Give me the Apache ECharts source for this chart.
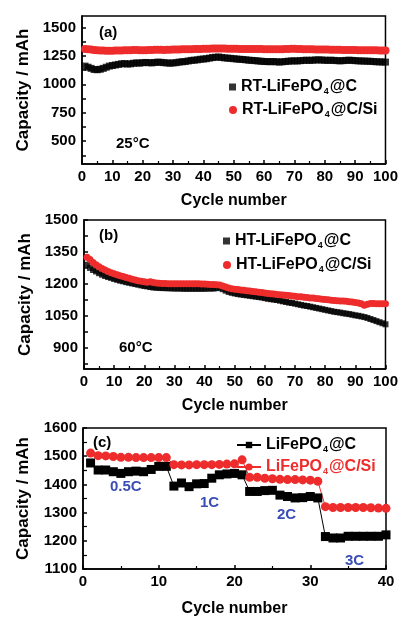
<!DOCTYPE html>
<html>
<head>
<meta charset="utf-8">
<script src="https://cdn.jsdelivr.net/npm/echarts@6/dist/echarts.min.js"></script>
<style>
  html, body { margin: 0; padding: 0; background: #fff; }
  #chart { width: 401px; height: 618px; }
</style>
</head>
<body>
<div id="chart"></div>
<script>
// (a) 25 C cycling, cycles 1..100
const rtCarbon = [
    1160, 1150, 1140, 1130, 1128, 1132, 1140, 1150, 1160, 1165,
    1170, 1175, 1180, 1182, 1178, 1180, 1185, 1188, 1186, 1190,
    1192, 1190, 1188, 1192, 1195, 1193, 1190, 1188, 1185, 1188,
    1190, 1195, 1198, 1200, 1205, 1210, 1212, 1215, 1220, 1222,
    1225, 1230, 1235, 1238, 1240, 1236, 1232, 1230, 1228, 1225,
    1222, 1220, 1218, 1215, 1212, 1210, 1208, 1205, 1203, 1200,
    1200, 1198, 1200, 1198, 1195, 1198, 1200, 1203, 1205, 1206,
    1205, 1208, 1210, 1212, 1210, 1212, 1214, 1215, 1213, 1212,
    1210, 1212, 1210, 1208, 1206, 1208, 1210, 1212, 1210, 1208,
    1206, 1205, 1204, 1203, 1202, 1200, 1198, 1197, 1196, 1195
];
const rtSilicon = [
    1310, 1308, 1305, 1302, 1300, 1298, 1296, 1295, 1295, 1295,
    1296, 1298, 1298, 1300, 1300, 1300, 1302, 1302, 1300, 1300,
    1300, 1302, 1302, 1303, 1303, 1303, 1302, 1303, 1304, 1305,
    1305, 1306, 1307, 1308, 1308, 1309, 1310, 1310, 1311, 1312,
    1312, 1313, 1314, 1315, 1315, 1315, 1314, 1313, 1312, 1312,
    1312, 1311, 1310, 1310, 1310, 1311, 1311, 1310, 1310, 1309,
    1308, 1308, 1307, 1307, 1308, 1309, 1310, 1311, 1312, 1312,
    1311, 1310, 1309, 1308, 1308, 1307, 1306, 1306, 1305, 1305,
    1305, 1304, 1304, 1303, 1303, 1302, 1302, 1302, 1301, 1301,
    1300, 1300, 1300, 1300, 1299, 1299, 1299, 1298, 1298, 1298
];
// (b) 60 C cycling, cycles 1..100
const htCarbon = [
    1290, 1275, 1265, 1258, 1250, 1243, 1237, 1232, 1228, 1223,
    1219, 1215, 1212, 1208, 1205, 1202, 1199, 1196, 1193, 1190,
    1188, 1185, 1183, 1182, 1181, 1180, 1180, 1179, 1179, 1178,
    1178, 1178, 1177, 1177, 1177, 1177, 1177, 1177, 1177, 1177,
    1178, 1178, 1178, 1180, 1182, 1175, 1168, 1162, 1158, 1155,
    1152, 1150, 1148, 1146, 1144, 1142, 1140, 1138, 1136, 1133,
    1130, 1128, 1126, 1124, 1121, 1118, 1115, 1112, 1110, 1107,
    1104, 1101, 1098, 1096, 1093, 1090, 1087, 1084, 1081, 1078,
    1075, 1072, 1069, 1067, 1065, 1062, 1060, 1058, 1055, 1052,
    1050, 1047, 1044, 1040, 1035, 1030, 1025, 1020, 1015, 1010
];
const htSilicon = [
    1325, 1315, 1300, 1290, 1280, 1272, 1265, 1258, 1252, 1248,
    1243, 1238, 1234, 1230, 1226, 1222, 1218, 1215, 1212, 1210,
    1208, 1210, 1206, 1204, 1203, 1202, 1202, 1201, 1201, 1200,
    1200, 1200, 1200, 1200, 1200, 1200, 1200, 1200, 1199, 1199,
    1198, 1197, 1197, 1196, 1195, 1190, 1185, 1180, 1177, 1175,
    1173, 1171, 1170, 1168, 1166, 1164, 1163, 1161, 1159, 1157,
    1155, 1154, 1152, 1150, 1149, 1148, 1146, 1145, 1143, 1142,
    1140, 1139, 1137, 1136, 1134, 1133, 1131, 1130, 1128, 1126,
    1125, 1123, 1122, 1121, 1120, 1119, 1118, 1116, 1115, 1113,
    1110, 1106, 1100, 1104, 1108, 1108, 1107, 1107, 1106, 1106
];
// (c) rate test, cycles 1..40
const rateCarbon = [
    1476, 1451, 1451, 1445, 1439, 1445, 1447, 1445, 1453, 1464,
    1464, 1394, 1405, 1392, 1402, 1403, 1422, 1434, 1437, 1439,
    1434, 1375, 1375, 1378, 1379, 1362, 1357, 1352, 1353, 1357,
    1352, 1215, 1210, 1210, 1216, 1216, 1216, 1216, 1216, 1221
];
const rateSilicon = [
    1511, 1502, 1501, 1499, 1496, 1496, 1495, 1495, 1495, 1495,
    1495, 1470, 1469, 1469, 1470, 1470, 1470, 1471, 1472, 1473,
    1487, 1425, 1425, 1422, 1420, 1418, 1417, 1417, 1416, 1415,
    1411, 1321, 1318, 1318, 1318, 1318, 1318, 1317, 1316, 1315
];
const ticksA = [500, 750, 1000, 1250, 1500];
const ticksB = [900, 1050, 1200, 1350, 1500];

const FONT = '"Liberation Sans", Arial, sans-serif';
const RED = '#ee2c2c';
const BLUE = '#3a4db5';

function pairs(arr) {
    return arr.map(function (v, i) { return [i + 1, v]; });
}
function withMinor(major, step) {
    const out = [];
    major.forEach(function (v) { out.push(v); out.push(v - step / 2); });
    return out;
}
function plain(v) {
    return String(v);
}
function legendName(name) {
    const i = name.indexOf('PO4');
    return '{t|' + name.slice(0, i + 2) + '}{s|4}{t|' + name.slice(i + 3) + '}';
}
function legendRich(color) {
    return {
        t: { fontFamily: FONT, fontWeight: 'bold', fontSize: 16, color: color, lineHeight: 18 },
        s: { fontFamily: FONT, fontWeight: 'bold', fontSize: 9, color: color, lineHeight: 18, verticalAlign: 'bottom', padding: [0, 1, 0, 1] }
    };
}

const axisText = { fontFamily: FONT, fontWeight: 'bold', fontSize: 15, color: '#000' };
const lineBlack = { show: true, lineStyle: { color: '#000', width: 1.5 } };

function xAxisFor(idx, max, gap) {
    return {
        gridIndex: idx, type: 'value', min: 0, max: max, interval: 10,
        name: 'Cycle number', nameLocation: 'middle', nameGap: gap,
        nameTextStyle: { fontFamily: FONT, fontWeight: 'bold', fontSize: 16, color: '#000' },
        axisLine: lineBlack,
        axisTick: { inside: true, length: 4, lineStyle: { color: '#000', width: 1.5 } },
        minorTick: { show: true, splitNumber: 2, length: 3, lineStyle: { color: '#000', width: 1.2 } },
        axisLabel: Object.assign({ margin: 5, formatter: plain }, axisText),
        splitLine: { show: false }
    };
}
function yAxisFor(idx, min, max, labels, step) {
    return {
        gridIndex: idx, type: 'value', min: min, max: max,
        name: 'Capacity / mAh', nameLocation: 'middle', nameGap: 47, nameRotate: 90,
        nameTextStyle: { fontFamily: FONT, fontWeight: 'bold', fontSize: 17, color: '#000' },
        axisLine: lineBlack,
        axisTick: { inside: true, length: 4, customValues: withMinor(labels, step), lineStyle: { color: '#000', width: 1.5 } },
        axisLabel: Object.assign({ margin: 6, customValues: labels, formatter: plain }, axisText),
        splitLine: { show: false }
    };
}

const chart = echarts.init(document.getElementById('chart'));
const option = {
    animation: false,
    backgroundColor: '#fff',
    grid: [
        { left: 82, top: 16, width: 304, height: 148, show: true, borderColor: '#000', borderWidth: 1.5 },
        { left: 84, top: 220, width: 303, height: 149, show: true, borderColor: '#000', borderWidth: 1.5 },
        { left: 83, top: 428, width: 303, height: 149, show: true, borderColor: '#000', borderWidth: 1.5 }
    ],
    xAxis: [xAxisFor(0, 100, 29), xAxisFor(1, 100, 29), xAxisFor(2, 40, 32)],
    yAxis: [
        yAxisFor(0, 300, 1600, ticksA, 250),
        yAxisFor(1, 800, 1500, ticksB, 150),
        {
            gridIndex: 2, type: 'value', min: 1100, max: 1600, interval: 100,
            name: 'Capacity / mAh', nameLocation: 'middle', nameGap: 51, nameRotate: 90,
            nameTextStyle: { fontFamily: FONT, fontWeight: 'bold', fontSize: 17, color: '#000' },
            axisLine: lineBlack,
            axisTick: { inside: true, length: 4, lineStyle: { color: '#000', width: 1.5 } },
            minorTick: { show: true, splitNumber: 2, length: 4, lineStyle: { color: '#000', width: 1.2 } },
            axisLabel: Object.assign({ margin: 6, formatter: plain }, axisText),
            splitLine: { show: false }
        }
    ],
    legend: [
        {
            data: ['RT-LiFePO4@C'], left: 224, top: 74, itemWidth: 7, itemHeight: 7,
            formatter: legendName, textStyle: { rich: legendRich('#000') }
        },
        {
            data: ['RT-LiFePO4@C/Si'], left: 224, top: 97, itemWidth: 8, itemHeight: 8,
            formatter: legendName, textStyle: { rich: legendRich('#000') }
        },
        {
            data: ['HT-LiFePO4@C'], left: 218, top: 228, itemWidth: 7, itemHeight: 7,
            formatter: legendName, textStyle: { rich: legendRich('#000') }
        },
        {
            data: ['HT-LiFePO4@C/Si'], left: 218, top: 252, itemWidth: 8, itemHeight: 8,
            formatter: legendName, textStyle: { rich: legendRich('#000') }
        },
        {
            data: ['LiFePO4@C'], left: 231, top: 432, itemWidth: 24, itemHeight: 8,
            formatter: legendName, textStyle: { rich: legendRich('#000') }
        },
        {
            data: ['LiFePO4@C/Si'], left: 231, top: 454, itemWidth: 24, itemHeight: 9,
            formatter: legendName, textStyle: { rich: legendRich(RED) }
        }
    ],
    series: [
        {
            name: 'RT-LiFePO4@C', type: 'scatter', xAxisIndex: 0, yAxisIndex: 0,
            symbol: 'rect', symbolSize: 7, itemStyle: { color: '#000' }, data: pairs(rtCarbon)
        },
        {
            name: 'RT-LiFePO4@C/Si', type: 'scatter', xAxisIndex: 0, yAxisIndex: 0,
            symbol: 'circle', symbolSize: 8, itemStyle: { color: RED, opacity: 1 }, data: pairs(rtSilicon)
        },
        {
            name: 'HT-LiFePO4@C', type: 'scatter', xAxisIndex: 1, yAxisIndex: 1,
            symbol: 'rect', symbolSize: 6, itemStyle: { color: '#000' }, data: pairs(htCarbon)
        },
        {
            name: 'HT-LiFePO4@C/Si', type: 'scatter', xAxisIndex: 1, yAxisIndex: 1,
            symbol: 'circle', symbolSize: 7, itemStyle: { color: RED, opacity: 1 }, data: pairs(htSilicon)
        },
        {
            name: 'LiFePO4@C', type: 'line', xAxisIndex: 2, yAxisIndex: 2,
            symbol: 'rect', symbolSize: 9, showAllSymbol: true,
            lineStyle: { color: '#000', width: 1 }, itemStyle: { color: '#000' }, data: pairs(rateCarbon)
        },
        {
            name: 'LiFePO4@C/Si', type: 'line', xAxisIndex: 2, yAxisIndex: 2,
            symbol: 'circle', symbolSize: 9, showAllSymbol: true,
            lineStyle: { color: RED, width: 1 }, itemStyle: { color: RED }, data: pairs(rateSilicon)
        }
    ],
    graphic: [
        { type: 'text', left: 99, top: 25, style: { text: '(a)', font: 'bold 15px ' + FONT, fill: '#000' } },
        { type: 'text', left: 116, top: 136, style: { text: '25°C', font: 'bold 15px ' + FONT, fill: '#000' } },
        { type: 'text', left: 99, top: 228, style: { text: '(b)', font: 'bold 15px ' + FONT, fill: '#000' } },
        { type: 'text', left: 119, top: 340, style: { text: '60°C', font: 'bold 15px ' + FONT, fill: '#000' } },
        { type: 'text', left: 93, top: 435, style: { text: '(c)', font: 'bold 15px ' + FONT, fill: '#000' } },
        { type: 'text', left: 110, top: 479, style: { text: '0.5C', font: 'bold 15px ' + FONT, fill: BLUE } },
        { type: 'text', left: 200, top: 495, style: { text: '1C', font: 'bold 15px ' + FONT, fill: BLUE } },
        { type: 'text', left: 277, top: 507, style: { text: '2C', font: 'bold 15px ' + FONT, fill: BLUE } },
        { type: 'text', left: 345, top: 553, style: { text: '3C', font: 'bold 15px ' + FONT, fill: BLUE } }
    ]
};
chart.setOption(option);
window.addEventListener('resize', function () {
    chart.resize();
});
</script>
</body>
</html>
